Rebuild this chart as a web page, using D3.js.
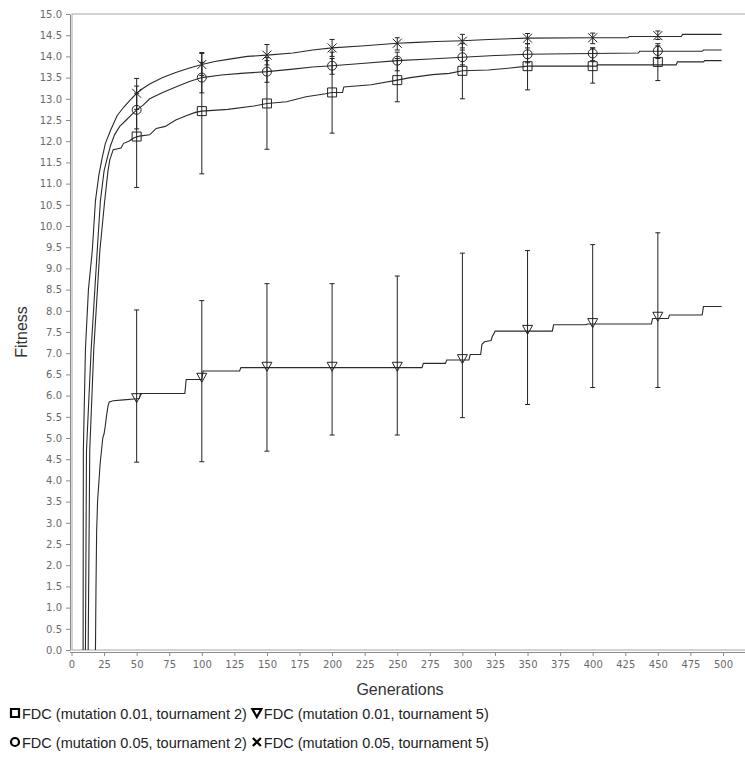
<!DOCTYPE html>
<html>
<head>
<meta charset="utf-8">
<script src="https://cdnjs.cloudflare.com/ajax/libs/d3/7.8.5/d3.min.js"></script>
<style>
  body { margin: 0; background: #fff; }
</style>
</head>
<body>
<div id="chart"></div>
<script>
// generations where markers and error bars sit
var markerGens = [50, 100, 150, 200, 250, 300, 350, 400, 450];

// mean curves, [generation, fitness]
var lineSquare = [[12.8,0],[14,4.7],[17.1,7.1],[21.7,9.4],[25.5,10.6],[28,11.3],[29.4,11.56],[32,11.8],[38,11.84],[40,11.95],[44,12.0],[48,12.08],[52,12.12],[60,12.15],[65,12.3],[72,12.35],[80,12.5],[88,12.6],[95,12.68],[100,12.71],[120,12.75],[140,12.83],[150,12.89],[165,12.93],[180,13.05],[195,13.12],[200,13.15],[208,13.15],[209,13.28],[230,13.33],[250,13.44],[260,13.5],[277,13.57],[290,13.6],[300,13.66],[320,13.68],[335,13.72],[350,13.77],[403,13.77],[404,13.8],[464,13.8],[465,13.87],[485,13.87],[486,13.9],[499,13.9]];
var lineTriangle = [[18.4,0],[18.8,1.5],[19.3,2.8],[20,3.5],[21,3.95],[22,4.4],[23,4.7],[24,5.0],[25,5.1],[26,5.3],[27,5.55],[28,5.75],[29,5.85],[32,5.88],[40,5.9],[48,5.92],[52,5.93],[53,6.05],[87,6.05],[88,6.38],[100,6.38],[101,6.58],[129,6.58],[130,6.66],[269,6.66],[270,6.76],[287,6.76],[288,6.84],[305,6.84],[306,6.97],[314,6.97],[315,7.21],[317,7.27],[322,7.3],[323,7.4],[324,7.45],[325,7.52],[369,7.52],[370,7.67],[395,7.67],[396,7.69],[445,7.69],[446,7.82],[458,7.82],[459,7.9],[484,7.9],[485,8.1],[499,8.1]];
var lineCircle = [[10.7,0],[11.5,4.7],[15.1,7.1],[19.7,9.4],[22.2,10.6],[25,11.3],[27.4,11.6],[30,11.9],[33,12.15],[37,12.35],[42,12.5],[46,12.62],[50,12.74],[55,12.85],[60,13.0],[70,13.15],[80,13.28],[90,13.4],[100,13.5],[115,13.56],[130,13.6],[150,13.64],[170,13.7],[185,13.75],[200,13.78],[225,13.84],[250,13.9],[275,13.94],[300,13.98],[325,14.02],[350,14.05],[400,14.07],[435,14.08],[436,14.12],[484,14.12],[485,14.15],[499,14.15]];
var lineCross = [[8.9,0],[9.1,4.7],[10.7,7.1],[13,8.5],[15.9,9.4],[18.4,10.6],[21,11.2],[23.5,11.6],[26,11.95],[30,12.26],[35,12.6],[40,12.8],[45,12.97],[50,13.13],[55,13.25],[60,13.35],[70,13.5],[80,13.62],[90,13.72],[100,13.81],[110,13.88],[120,13.93],[135,14.0],[150,14.03],[170,14.08],[185,14.15],[200,14.2],[225,14.25],[250,14.31],[265,14.33],[280,14.35],[300,14.37],[320,14.4],[350,14.43],[400,14.44],[427,14.44],[428,14.47],[468,14.47],[469,14.52],[499,14.52]];

// marker values at markerGens
var markSquare = [12.11,12.71,12.89,13.15,13.44,13.66,13.77,13.77,13.87];
var markTriangle = [5.94,6.42,6.68,6.68,6.68,6.86,7.55,7.71,7.86];
var markCircle = [12.74,13.5,13.64,13.78,13.9,13.98,14.05,14.07,14.13];
var markCross = [13.13,13.81,14.03,14.2,14.31,14.36,14.43,14.44,14.49];

// error bar ends at markerGens
var loSquare = [10.91,11.23,11.81,12.19,12.93,13.0,13.21,13.37,13.43];
var hiSquare = [13.3,14.09,13.97,14.1,13.95,14.3,14.3,14.2,14.3];
var loTriangle = [4.43,4.44,4.69,5.07,5.07,5.48,5.79,6.19,6.19];
var hiTriangle = [8.02,8.24,8.64,8.64,8.82,9.36,9.42,9.56,9.84];
var loCircle = [12.29,13.14,13.39,13.58,13.66,13.8,13.85,13.9,13.95];
var hiCircle = [13.13,13.86,13.9,13.95,14.1,14.15,14.2,14.2,14.25];
var loCross = [12.75,13.55,13.8,14.0,14.15,14.2,14.3,14.3,14.4];
var hiCross = [13.48,14.07,14.28,14.4,14.44,14.52,14.54,14.55,14.6];

var legendNames = [
  "FDC (mutation 0.01, tournament 2)",
  "FDC (mutation 0.01, tournament 5)",
  "FDC (mutation 0.05, tournament 2)",
  "FDC (mutation 0.05, tournament 5)"
];

var series = [
  {shape: "square",   line: lineSquare,   mark: markSquare,   lo: loSquare,   hi: hiSquare},
  {shape: "triangle", line: lineTriangle, mark: markTriangle, lo: loTriangle, hi: hiTriangle},
  {shape: "circle",   line: lineCircle,   mark: markCircle,   lo: loCircle,   hi: hiCircle},
  {shape: "cross",    line: lineCross,    mark: markCross,    lo: loCross,    hi: hiCross}
];

var W = 745, H = 758;
var plot = {left: 72, top: 14, right: 760, bottom: 650};

var svg = d3.select("#chart")
  .append("svg")
    .attr("width", W)
    .attr("height", H);

var x = d3.scaleLinear().domain([0, 500]).range([71.5, 723]);
var y = d3.scaleLinear().domain([0, 15]).range([650, 14]);

var tickFont = "'DejaVu Sans', Tahoma, sans-serif";
var textFont = "'Liberation Sans', Arial, sans-serif";

// plot frame
svg.append("rect")
  .attr("x", plot.left)
  .attr("y", plot.top)
  .attr("width", plot.right - plot.left)
  .attr("height", plot.bottom - plot.top)
  .attr("fill", "none")
  .attr("stroke", "#c4c4c4")
  .attr("stroke-width", 1.5);

// y axis
var yAxis = svg.append("g")
  .attr("transform", "translate(70,0)")
  .call(d3.axisLeft(y)
    .tickValues(d3.range(0, 15.01, 0.5))
    .tickFormat(d3.format(".1f"))
    .tickSize(4)
    .tickSizeOuter(0)
    .tickPadding(4));

// x axis
var xAxis = svg.append("g")
  .attr("transform", "translate(0,652)")
  .call(d3.axisBottom(x)
    .tickValues(d3.range(0, 501, 25))
    .tickSize(4)
    .tickSizeOuter(0)
    .tickPadding(5));
xAxis.select(".domain").remove();
svg.append("line")
  .attr("x1", 70).attr("x2", W)
  .attr("y1", 652.5).attr("y2", 652.5)
  .attr("stroke", "#8a8a8a");

[yAxis, xAxis].forEach(function(a) {
  a.selectAll(".domain").attr("stroke", "#8a8a8a");
  a.selectAll(".tick line").attr("stroke", "#8a8a8a");
  a.selectAll(".tick text")
    .attr("fill", "#6a6a6a")
    .style("font-family", tickFont)
    .style("font-size", "10px");
});

// axis titles
svg.append("text")
  .attr("transform", "translate(27,332) rotate(-90)")
  .attr("text-anchor", "middle")
  .style("font-family", textFont)
  .style("font-size", "16px")
  .attr("fill", "#333")
  .text("Fitness");

svg.append("text")
  .attr("x", 400)
  .attr("y", 695)
  .attr("text-anchor", "middle")
  .style("font-family", textFont)
  .style("font-size", "16px")
  .attr("fill", "#333")
  .text("Generations");

// shapes
function shapePath(shape, s) {
  if (shape == "square") return "M" + (-s) + "," + (-s) + "h" + (2*s) + "v" + (2*s) + "h" + (-2*s) + "Z";
  if (shape == "triangle") return "M" + (-s-0.5) + "," + (-s) + "L" + (s+0.5) + "," + (-s) + "L0," + s + "Z";
  if (shape == "circle") return "M" + s + ",0A" + s + "," + s + " 0 1,1 " + (-s) + ",0A" + s + "," + s + " 0 1,1 " + s + ",0Z";
  return "M" + (-s) + "," + (-s) + "L" + s + "," + s + "M" + (-s) + "," + s + "L" + s + "," + (-s);
}

var line = d3.line()
  .x(function(d) { return x(d[0]); })
  .y(function(d) { return y(d[1]); });

var g = svg.append("g");

// lines
series.forEach(function(s) {
  g.append("path")
    .datum(s.line)
    .attr("d", line)
    .attr("fill", "none")
    .attr("stroke", "#2a2a2a")
    .attr("stroke-width", 1.1);
});

// error bars
series.forEach(function(s) {
  var bars = g.selectAll(null)
    .data(markerGens.map(function(gen, i) { return {gen: gen, lo: s.lo[i], hi: s.hi[i]}; }))
    .enter().append("g");
  bars.append("line")
    .attr("x1", function(d) { return x(d.gen); })
    .attr("x2", function(d) { return x(d.gen); })
    .attr("y1", function(d) { return y(d.lo); })
    .attr("y2", function(d) { return y(d.hi); })
    .attr("stroke", "#222");
  ["lo", "hi"].forEach(function(k) {
    bars.append("line")
      .attr("x1", function(d) { return x(d.gen) - 2.5; })
      .attr("x2", function(d) { return x(d.gen) + 2.5; })
      .attr("y1", function(d) { return y(d[k]); })
      .attr("y2", function(d) { return y(d[k]); })
      .attr("stroke", "#222");
  });
});

// markers
series.forEach(function(s) {
  g.selectAll(null)
    .data(markerGens.map(function(gen, i) { return [gen, s.mark[i]]; }))
    .enter().append("path")
      .attr("transform", function(d) { return "translate(" + x(d[0]) + "," + y(d[1]) + ")"; })
      .attr("d", shapePath(s.shape, 4.5))
      .attr("fill", "none")
      .attr("stroke", "#222");
});

// legend
var rows = [[0, 1], [2, 3]];
rows.forEach(function(row, r) {
  var cy = 713 + r * 29;
  var cx = 15;
  row.forEach(function(idx) {
    svg.append("path")
      .attr("transform", "translate(" + cx + "," + cy + ")")
      .attr("d", shapePath(series[idx].shape, 4))
      .attr("fill", "none")
      .attr("stroke", "#000")
      .attr("stroke-width", 2.2);
    var t = svg.append("text")
      .attr("x", cx + 7)
      .attr("y", cy + 5.5)
      .style("font-family", textFont)
      .style("font-size", "14.5px")
      .attr("fill", "#222")
      .text(legendNames[idx]);
    cx = cx + 7 + t.node().getComputedTextLength() + 10;
  });
});
</script>
</body>
</html>
